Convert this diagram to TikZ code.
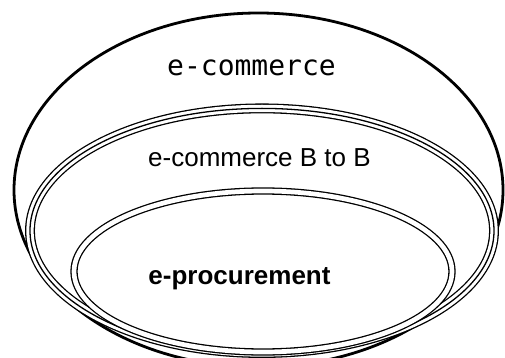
\documentclass[tikz,border=0pt]{standalone}
\usepackage{fontspec}
\setmainfont{Liberation Sans}
\newfontfamily\monofont{DejaVu Sans Mono}

\begin{document}
\begin{tikzpicture}[x=1pt, y=-1pt,
    outerline/.style={line width=2.8pt},
    label/.style={anchor=base, inner sep=0pt, font=\fontsize{26}{26}\selectfont}]
    \useasboundingbox (0, 0) rectangle (505, 358);
    % e-commerce
    \draw[outerline] (258.5, 190) ellipse [x radius=244.5pt, y radius=177pt];
    % B to B, three lines
    \draw[line width=9.9pt, fill=white] (262, 230.7) ellipse [x radius=232pt, y radius=122.3pt];
    \draw[line width=7.3pt, white] (262, 230.7) ellipse [x radius=232pt, y radius=122.3pt];
    \draw[line width=1.3pt] (262, 230.7) ellipse [x radius=232pt, y radius=122.3pt];
    % procurement, two lines
    \draw[line width=1.3pt, double, double distance=4.7pt, fill=white] (263, 271.5) ellipse [x radius=189pt, y radius=80.5pt];
    \node[label, font=\monofont\fontsize{28}{28}\selectfont] (ecom) at (251.5, 76) {e-commerce};
    \node[label] (btob) at (259.5, 166) {e-commerce B to B};
    \node[label, font=\bfseries\fontsize{26}{26}\selectfont] (eproc) at (239.5, 284) {e-procurement};
\end{tikzpicture}
\end{document}
